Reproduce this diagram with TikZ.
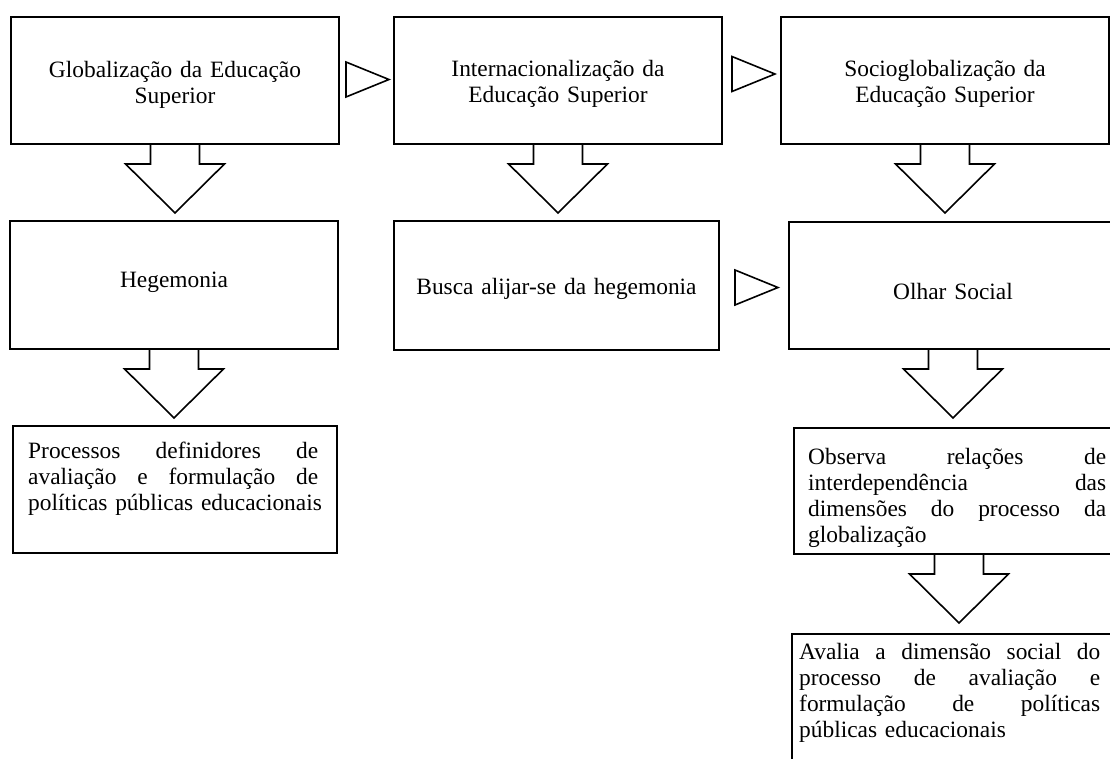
\documentclass[tikz,border=0pt]{standalone}
\usepackage{fontspec}
\setmainfont{Liberation Serif}
\usetikzlibrary{calc}
\newcommand\jline[2]{\leavevmode\hbox to #1{#2}}
\tikzset{
  box/.style={draw=black, line width=1.9pt, inner sep=0pt, fill=white},
  arrline/.style={draw=black, line width=1.6pt, line join=miter},
  ctext/.style={font=\fontsize{23.4}{26.3}\selectfont, inner sep=0pt, anchor=base, align=center, text width=326pt},
  jtext/.style={font=\fontsize{23.4}{26.3}\selectfont, inner sep=0pt, anchor=base west, align=left, text width=340pt},
  pics/blockdown/.style={code={
    \draw[arrline] (-24.5,0) -- (-24.5,19) -- (-49.5,19) -- (0,68) -- (49.5,19) -- (24.5,19) -- (24.5,0);
  }},
  pics/righttri/.style={code={
    \draw[arrline] (0,-17.5) -- (43,0) -- (0,17.5) -- cycle;
  }}
}
\begin{document}
\begin{tikzpicture}[x=1pt,y=-1pt]
\useasboundingbox (0,0) rectangle (1110,758);
\clip (0,0) rectangle (1110,758);
\fill[white] (0,0) rectangle (1110,758);

% boxes
\node[box, minimum width=328pt, minimum height=127pt] (b1) at (175,80.5) {};
\node[box, minimum width=328pt, minimum height=127pt] (b2) at (558,80.5) {};
\node[box, minimum width=328pt, minimum height=127pt] (b3) at (945,80.5) {};
\node[box, minimum width=328pt, minimum height=128pt] (heg) at (174,285) {};
\node[box, minimum width=325pt, minimum height=129pt] (bus) at (556.5,285.5) {};
\node[box, minimum width=328pt, minimum height=127pt] (olh) at (953,285.5) {};
\node[box, minimum width=324pt, minimum height=127pt] (proc) at (175,489.5) {};
\node[box, minimum width=330pt, minimum height=126pt] (obs) at (959,491) {};
\node[box, minimum width=334pt, minimum height=156pt] (aval) at (959,712) {};

% down block arrows
\pic at (b1.south) {blockdown};
\pic at (b2.south) {blockdown};
\pic at (b3.south) {blockdown};
\pic at (heg.south) {blockdown};
\pic at (olh.south) {blockdown};
\pic at (obs.south) {blockdown};

% right triangles
\pic at ($(b1.east)+(6,-1)$) {righttri};
\pic at ($(b2.east)+(9,-6.5)$) {righttri};
\pic at ($(bus.east)+(15,2)$) {righttri};

% texts
\node[ctext] (t1) at (175,77) {Globalização da Educação\\Superior};
\node[ctext] (t2) at (558,76) {Internacionalização da\\Educação Superior};
\node[ctext] (t3) at (945,76) {Socioglobalização da\\Educação Superior};
\node[ctext] (th) at (174,287) {Hegemonia};
\node[ctext] (tb) at (556.5,294) {Busca alijar-se da hegemonia};
\node[ctext] (to) at (953,299) {Olhar Social};
\node[jtext] (tp) at (28,458) {\jline{290pt}{Processos\hfill definidores\hfill de}\\
  \jline{290pt}{avaliação\hfill e\hfill formulação\hfill de}\\
  \mbox{políticas públicas educacionais}};
\node[jtext] (tob) at (808,464) {\jline{298pt}{Observa\hfill relações\hfill de}\\
  \jline{298pt}{interdependência\hfill das}\\
  \jline{298pt}{dimensões\hfill do\hfill processo\hfill da}\\
  \mbox{globalização}};
\node[jtext] (tav) at (799,659) {\jline{301pt}{Avalia\hfill a\hfill dimensão\hfill social\hfill do}\\
  \jline{301pt}{processo\hfill de\hfill avaliação\hfill e}\\
  \jline{301pt}{formulação\hfill de\hfill políticas}\\
  \mbox{públicas educacionais}};
\end{tikzpicture}
\end{document}
